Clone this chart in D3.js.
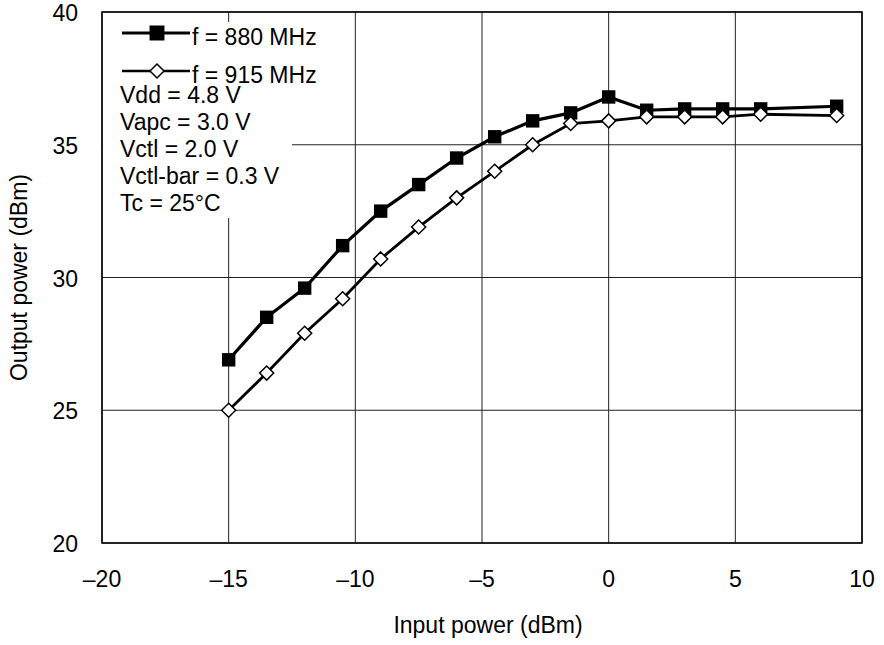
<!DOCTYPE html>
<html>
<head>
<meta charset="utf-8">
<script src="https://cdn.jsdelivr.net/npm/d3@7"></script>
<style>
  body { margin: 0; background: #fff; }
  text { font-family: "Liberation Sans", Arial, sans-serif; fill: #000; }
</style>
</head>
<body>
<svg id="chart" width="884" height="645"></svg>
<script>
// input power (dBm)
let inputPower = [-15, -13.5, -12, -10.5, -9, -7.5, -6, -4.5, -3, -1.5, 0, 1.5, 3, 4.5, 6, 9];
// output power (dBm)
let out880 = [26.9, 28.5, 29.6, 31.2, 32.5, 33.5, 34.5, 35.3, 35.9, 36.2, 36.8, 36.3, 36.35, 36.35, 36.35, 36.45];
let out915 = [25.0, 26.4, 27.9, 29.2, 30.7, 31.9, 33.0, 34.0, 35.0, 35.8, 35.9, 36.05, 36.05, 36.05, 36.15, 36.1];

let xTicks = [-20, -15, -10, -5, 0, 5, 10];
let yTicks = [20, 25, 30, 35, 40];
let legendNotes = ["Vdd = 4.8 V", "Vapc = 3.0 V", "Vctl = 2.0 V", "Vctl-bar = 0.3 V", "Tc = 25\u00b0C"];

let margin = {left: 102, right: 22, top: 12, bottom: 102},
    width = 884 - margin.left - margin.right,
    height = 645 - margin.top - margin.bottom;

let fs = "23px";

let svg = d3.select("#chart");
let g = svg.append("g").attr("transform", "translate(" + margin.left + "," + margin.top + ")");

let x = d3.scaleLinear().domain([-20, 10]).range([0, width]);
let y = d3.scaleLinear().domain([20, 40]).range([height, 0]);

// grid
g.selectAll(".vgrid").data(xTicks).enter().append("line")
    .attr("x1", d => x(d)).attr("x2", d => x(d))
    .attr("y1", 0).attr("y2", height)
    .style("stroke", "#222").style("stroke-width", 1);
g.selectAll(".hgrid").data(yTicks).enter().append("line")
    .attr("x1", 0).attr("x2", width)
    .attr("y1", d => y(d)).attr("y2", d => y(d))
    .style("stroke", "#222").style("stroke-width", 1);

// legend background hides the grid
g.append("rect").attr("x", 1).attr("y", 10).attr("width", 189).attr("height", 196).style("fill", "#fff");

// frame
g.append("rect").attr("width", width).attr("height", height)
    .style("fill", "none").style("stroke", "#000").style("stroke-width", 1.5);

// tick labels
g.selectAll(".xlab").data(xTicks).enter().append("text")
    .attr("x", d => x(d)).attr("y", height + 44)
    .attr("text-anchor", "middle").style("font-size", fs)
    .text(d => d < 0 ? "\u2013" + Math.abs(d) : d);
g.selectAll(".ylab").data(yTicks).enter().append("text")
    .attr("x", -24).attr("y", d => y(d) + 9)
    .attr("text-anchor", "end").style("font-size", fs)
    .text(d => d);

// axis titles
g.append("text").attr("x", width / 2 + 6).attr("y", height + 90)
    .attr("text-anchor", "middle").style("font-size", fs).text("Input power (dBm)");
g.append("text").attr("transform", "translate(-75," + (height / 2) + ") rotate(-90)")
    .attr("text-anchor", "middle").style("font-size", fs).text("Output power (dBm)");

let line = d3.line().x(d => x(d[0])).y(d => y(d[1]));
let s880 = inputPower.map((v, i) => [v, out880[i]]);
let s915 = inputPower.map((v, i) => [v, out915[i]]);

g.append("path").datum(s880).attr("d", line)
    .style("fill", "none").style("stroke", "#000").style("stroke-width", 3.2);
g.append("path").datum(s915).attr("d", line)
    .style("fill", "none").style("stroke", "#000").style("stroke-width", 2.8);

let square = d3.symbol().type(d3.symbolSquare).size(180);
let diamond = d3.symbol().type(d3.symbolDiamond2).size(125);

g.selectAll(".sq").data(s880).enter().append("path")
    .attr("d", square)
    .attr("transform", d => "translate(" + x(d[0]) + "," + y(d[1]) + ")")
    .style("fill", "#000");
g.selectAll(".dm").data(s915).enter().append("path")
    .attr("d", diamond)
    .attr("transform", d => "translate(" + x(d[0]) + "," + y(d[1]) + ")")
    .style("fill", "#fff").style("stroke", "#000").style("stroke-width", 1.5);

// legend
let legendItems = [{label: "f = 880 MHz", sym: square, fill: "#000", w: 3},
                   {label: "f = 915 MHz", sym: diamond, fill: "#fff", w: 2.5}];
let lg = g.append("g").attr("transform", "translate(20,21)");
legendItems.forEach(function(d, i) {
  let row = lg.append("g").attr("transform", "translate(0," + (i * 38) + ")");
  row.append("line").attr("x1", 0).attr("x2", 68).attr("y1", 0).attr("y2", 0)
      .style("stroke", "#000").style("stroke-width", d.w);
  row.append("path").attr("d", d.sym).attr("transform", "translate(35,0)")
      .style("fill", d.fill).style("stroke", "#000").style("stroke-width", 1.5);
  row.append("text").attr("x", 70).attr("y", 12).style("font-size", fs).text(d.label);
});
lg.selectAll(".note").data(legendNotes).enter().append("text")
    .attr("x", -2).attr("y", (d, i) => 70 + i * 27)
    .style("font-size", fs).text(d => d);
</script>
</body>
</html>
